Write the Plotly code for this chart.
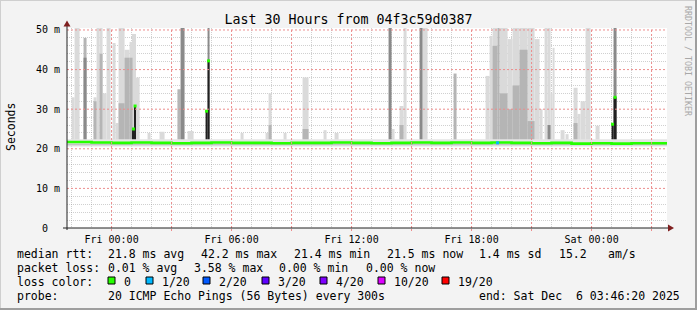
import plotly.graph_objects as go
import pandas as pd

# ---------------- data ----------------
END = pd.Timestamp("2025-12-06 03:46:20")
START = END - pd.Timedelta(hours=30)
REF = pd.Timestamp("2025-12-05 00:00:00")   # Fri 00:00

# smoke spikes: start (hours from Fri 00:00), duration (min), layer tops (ms)
SPIKE_START_H = [-2.0, -1.85, -1.4, -0.9, -0.75, -0.6, -0.45, -0.25, 0.05, 0.2,
                 0.35, 0.65, 0.9, 1.05, 1.135, 1.22, 1.8, 2.4, 3.3, 3.45,
                 3.8, 4.7, 4.8, 6.45, 7.7, 7.85, 8.6, 9.55, 10.6, 11.15,
                 13.85, 14.0, 14.4, 14.6, 15.4, 15.55, 17.1, 18.7, 18.9, 19.05,
                 19.3, 19.4, 19.8, 20.05, 20.4, 20.8, 21.15, 21.4, 21.65, 21.8,
                 21.95, 22.05, 22.45, 22.7, 23.1, 23.3, 23.45, 23.7, 24.2, 25.0,
                 25.1]
SPIKE_MIN = [9, 15, 9, 9, 9, 9, 12, 12, 9, 9,
             18, 15, 9, 5, 5, 11, 9, 15, 9, 12,
             18, 6, 6, 9, 9, 9, 9, 18, 9, 12,
             9, 9, 12, 9, 9, 15, 9, 12, 9, 15,
             6, 24, 15, 21, 24, 21, 15, 9, 9, 9,
             6, 6, 12, 9, 12, 9, 15, 15, 12, 6,
             9]
N = None
SMOKE_LIGHT = [33, 50.5, N, 33, 50.5, 50.5, 34, 50.5, 46.7, 26.5,
               50.5, 45, 47, 49, 49, 38, 24, 24.3, 35, N,
               24.5, N, N, 24, 24, 34, 24, 38, 24.7, 24,
               N, 25, 30.8, 50.5, N, 50.5, N, 38.4, 48.5, 50.5,
               N, 50.5, 47.7, 50.5, 50.5, 50.5, 47.7, 30, 50.5, 50.5,
               34, 45.5, 24.7, 23.7, 35.4, 28.8, 32, 50.5, 25.8, N,
               N]
SMOKE_MID = [N, N, 48, 32, N, 44, N, N, N, N,
             31.5, 43, 43, N, N, N, N, N, 35, N,
             N, N, N, N, N, 26, N, 25, N, N,
             N, N, 26, N, N, N, 39, N, N, 46,
             50.5, 34, 30, 36, 45, 27, N, N, N, N,
             N, N, N, N, 26.5, N, N, N, N, N,
             N]
SMOKE_DARK = [N, N, 43, N, N, N, N, N, N, N,
              N, N, N, N, N, N, N, N, N, 50.5,
              N, N, 50.5, N, N, N, N, N, N, N,
              50.5, N, N, N, 50.5, N, N, N, N, N,
              N, N, N, N, N, N, N, N, N, 26,
              N, N, N, N, N, N, N, N, N, N,
              50.5]
SMOKE_BLACK = [N, N, N, N, N, N, N, N, N, N,
               N, N, N, 25, 30.8, N, N, N, N, N,
               N, 29.5, 42.2, N, N, N, N, N, N, N,
               N, N, N, N, N, N, N, N, N, N,
               N, N, N, N, N, N, N, N, N, N,
               N, N, N, N, N, N, N, N, N, 26.2,
               33]
SMOKE_BASE = 20.8

# median rtt per hour, hours -3 .. 27 from Fri 00:00
MEDIAN_HOURLY = [21.7, 21.7, 21.6, 21.5, 21.6, 21.5, 21.4, 21.5, 21.6, 21.5,
                 21.5, 21.4, 21.5, 21.5, 21.6, 21.5, 21.4, 21.5, 21.6, 21.5,
                 21.6, 21.5, 21.6, 21.5, 21.4, 21.5, 21.3, 21.4, 21.3, 21.4,
                 21.4]
BAND_LIGHT = (20.6, 22.4)
BAND_DARK = (20.9, 21.3)
LOSS_H = [19.3]
LOSS_MS = [21.5]

Y_TICKS = [0, 10, 20, 30, 40, 50]
Y_TICKTEXT = ["0\u00a0\u00a0", "10 m", "20 m", "30 m", "40 m", "50 m"]
Y_MINOR = [v for v in range(2, 51, 2) if v % 10]
X_LABELS = ["Fri 00:00", "", "Fri 06:00", "", "Fri 12:00", "", "Fri 18:00", "",
            "Sat 00:00", ""]

LOSS_NAMES = ["0", "1/20", "2/20", "3/20", "4/20", "10/20", "19/20"]
LOSS_COLORS = ["#26ff00", "#00b8ff", "#0059ff", "#5e00ff", "#7e00ff", "#dd00ff", "#ff0000"]

FONT = "DejaVu Sans Mono"

# ---------------- figure ----------------
W, H = 697, 310
L, T, PW, PH = 67, 28, 600, 200


def pxx(x):
    return (x - L) / PW


def pxy(y):
    return (T + PH - y) / PH


def hours(h):
    return REF + pd.Timedelta(hours=h)


def ds(t):
    return t.strftime("%Y-%m-%d %H:%M:%S")


fig = go.Figure()

# background smoke band
fig.add_trace(go.Scatter(x=[START, END, END, START], y=[BAND_LIGHT[0], BAND_LIGHT[0], BAND_LIGHT[1], BAND_LIGHT[1]],
                         fill="toself", fillcolor="#e4e4e4", line=dict(width=0), mode="lines",
                         showlegend=False, hoverinfo="skip"))


def smoke_layer(tops, color):
    xs, ys, ws = [], [], []
    for s, d, top in zip(SPIKE_START_H, SPIKE_MIN, tops):
        if top is None:
            continue
        xs.append(hours(s) + pd.Timedelta(minutes=d / 2))
        ys.append(top - SMOKE_BASE)
        ws.append(d * 60000)
    fig.add_trace(go.Bar(x=xs, y=ys, base=[SMOKE_BASE] * len(xs), width=ws,
                         marker=dict(color=color, line=dict(width=0)),
                         showlegend=False, hoverinfo="skip"))


smoke_layer(SMOKE_LIGHT, "#dadada")
smoke_layer(SMOKE_MID, "#b5b5b5")
smoke_layer(SMOKE_DARK, "#8a8a8a")

fig.add_trace(go.Scatter(x=[START, END, END, START], y=[BAND_DARK[0], BAND_DARK[0], BAND_DARK[1], BAND_DARK[1]],
                         fill="toself", fillcolor="#c4c4c4", line=dict(width=0), mode="lines",
                         showlegend=False, hoverinfo="skip"))

# median line (loss 0)
mx, my = [], []
for i, v in enumerate(MEDIAN_HOURLY):
    t = hours(i - 3)
    mx.append(max(t, START))
    my.append(v)
mx.append(END)
my.append(MEDIAN_HOURLY[-1])
fig.add_trace(go.Scatter(x=mx, y=my, mode="lines", line=dict(color=LOSS_COLORS[0], width=2.6, shape="hv"),
                         showlegend=False, hoverinfo="skip"))

# loss 1/20 sample
fig.add_trace(go.Scatter(x=[hours(h) for h in LOSS_H], y=LOSS_MS, mode="markers",
                         marker=dict(color=LOSS_COLORS[1], size=3, symbol="square"),
                         showlegend=False, hoverinfo="skip"))

smoke_layer(SMOKE_BLACK, "#202020")

# median points on the dark bars
dx, dy = [], []
for s, d, b in zip(SPIKE_START_H, SPIKE_MIN, SMOKE_BLACK):
    if b is None:
        continue
    dx.append(hours(s) + pd.Timedelta(minutes=d / 2))
    dy.append(b)
fig.add_trace(go.Scatter(x=dx, y=dy, mode="markers",
                         marker=dict(color=LOSS_COLORS[0], size=3, symbol="square", line=dict(width=0)),
                         showlegend=False, hoverinfo="skip"))

MGRID = "#ec8c8c"
GRID = "rgba(150,150,150,0.45)"

tickvals = [hours(3 * k) for k in range(10)]
x_minor = [hours(h) for h in range(-2, 28) if h % 3]
fig.update_xaxes(type="date", range=[START, END], tickmode="array", tickvals=tickvals, ticktext=X_LABELS,
                 showgrid=False,
                 ticks="outside", ticklen=2, tickcolor=MGRID,
                 minor=dict(tickmode="array", tickvals=x_minor, showgrid=True, gridcolor=GRID,
                            griddash="1px,1px", gridwidth=1, ticks=""),
                 tickfont=dict(family=FONT, size=10, color="#000"),
                 showline=False, zeroline=False, layer="above traces", fixedrange=True)
fig.update_yaxes(range=[0, 50.5], tickmode="array", tickvals=Y_TICKS, ticktext=Y_TICKTEXT,
                 showgrid=False,
                 minor=dict(tickmode="array", tickvals=Y_MINOR, showgrid=True, gridcolor=GRID,
                            griddash="1px,1px", gridwidth=1),
                 ticks="", ticklabelstandoff=6,
                 tickfont=dict(family=FONT, size=10, color="#000"),
                 showline=False, zeroline=False, layer="above traces", fixedrange=True)

shapes = []
# major grid (drawn over the data like rrdtool)
for tv in tickvals:
    shapes.append(dict(type="line", xref="x", yref="paper", x0=ds(tv), x1=ds(tv), y0=0, y1=1, layer="above",
                       line=dict(color=MGRID, width=1, dash="2px,2px")))
for yv in Y_TICKS[1:]:
    shapes.append(dict(type="line", xref="paper", yref="y", x0=0, x1=1, y0=yv, y1=yv, layer="above",
                       line=dict(color=MGRID, width=1, dash="2px,2px")))
# axes lines
shapes.append(dict(type="line", xref="paper", yref="paper", x0=pxx(63), x1=pxx(669), y0=pxy(228), y1=pxy(228),
                   line=dict(color="#202020", width=1)))
shapes.append(dict(type="line", xref="paper", yref="paper", x0=pxx(67), x1=pxx(67), y0=pxy(230), y1=pxy(26),
                   line=dict(color="#202020", width=1)))
# arrows
shapes.append(dict(type="path", xref="paper", yref="paper",
                   path=f"M {pxx(674)},{pxy(228)} L {pxx(668)},{pxy(224.5)} L {pxx(668)},{pxy(231.5)} Z",
                   fillcolor="#7f1f1f", line=dict(width=0)))
shapes.append(dict(type="path", xref="paper", yref="paper",
                   path=f"M {pxx(67)},{pxy(20.5)} L {pxx(63.5)},{pxy(26.5)} L {pxx(70.5)},{pxy(26.5)} Z",
                   fillcolor="#7f1f1f", line=dict(width=0)))
# frame
shapes.append(dict(type="line", xref="paper", yref="paper", x0=pxx(0), x1=pxx(697), y0=pxy(0.5), y1=pxy(0.5),
                   line=dict(color="#cfcfcf", width=1)))
shapes.append(dict(type="line", xref="paper", yref="paper", x0=pxx(0.5), x1=pxx(0.5), y0=pxy(0), y1=pxy(310),
                   line=dict(color="#cfcfcf", width=1)))
shapes.append(dict(type="line", xref="paper", yref="paper", x0=pxx(0), x1=pxx(697), y0=pxy(309), y1=pxy(309),
                   line=dict(color="#9e9e9e", width=2)))
shapes.append(dict(type="line", xref="paper", yref="paper", x0=pxx(696), x1=pxx(696), y0=pxy(0), y1=pxy(310),
                   line=dict(color="#9e9e9e", width=2)))

annotations = []


def text(x, y, s, size=11.5, color="#000", anchor="left", angle=0):
    annotations.append(dict(text=s, xref="paper", yref="paper", x=pxx(x), y=pxy(y), xanchor=anchor,
                            yanchor="middle", showarrow=False, textangle=angle, borderpad=0,
                            font=dict(family=FONT, size=size, color=color)))


text(11, 127, "Seconds", size=11.5, anchor="center", angle=-90)
text(688, 61, "RRDTOOL / TOBI OETIKER", size=8.3, color="#a8a8a8", anchor="center", angle=90)

LEG1 = [("median rtt:", 16), ("21.8 ms avg", 107), ("42.2 ms max", 200), ("21.4 ms min", 293),
        ("21.5 ms now", 386), ("1.4 ms sd", 478), ("15.2", 558), ("am/s", 607)]
LEG2 = [("packet loss:", 16), ("0.01 % avg", 107), ("3.58 % max", 193), ("0.00 % min", 278),
        ("0.00 % now", 365)]
LEG4 = [("probe:", 16), ("20 ICMP Echo Pings (56 Bytes) every 300s", 107),
        ("end: Sat Dec \u00a06 03:46:20 2025", 478)]
for s, x in LEG1:
    text(x, 254, s)
for s, x in LEG2:
    text(x, 268, s)
for s, x in LEG4:
    text(x, 296, s)
text(16, 282, "loss color:")
SQ_X = [108, 146, 203, 262, 320, 378, 442]
for name, col, x in zip(LOSS_NAMES, LOSS_COLORS, SQ_X):
    shapes.append(dict(type="rect", xref="paper", yref="paper", x0=pxx(x), x1=pxx(x + 7),
                       y0=pxy(277), y1=pxy(284), fillcolor=col, line=dict(color="#000", width=1)))
    text(x + 15, 282, name)

fig.update_layout(
    width=W, height=H, margin=dict(l=L, r=W - L - PW, t=T, b=H - T - PH),
    paper_bgcolor="#f3f3f3", plot_bgcolor="#ffffff", barmode="overlay", showlegend=False,
    title=dict(text="Last 30 Hours from 04f3c59d0387", x=0.5, xref="container", xanchor="center",
               y=1 - 19 / H, yref="container", yanchor="middle",
               font=dict(family=FONT, size=13.3, color="#000")),
    shapes=shapes, annotations=annotations,
)

fig.write_html("out.html", config={"displayModeBar": False})
